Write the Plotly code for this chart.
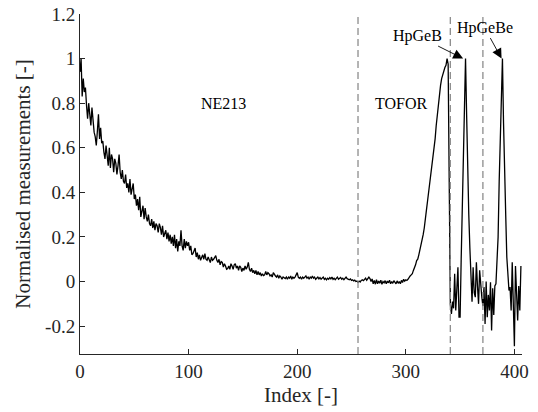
import plotly.graph_objects as go

# === Datos ===
# NE213: índices 0-255
ne213 = [
    0.94, 1.00, 0.83, 0.91, 0.85, 0.87, 0.79, 0.73, 0.80, 0.76,
    0.70, 0.78, 0.72, 0.67, 0.65, 0.61, 0.675, 0.75, 0.64, 0.69,
    0.62, 0.63, 0.58, 0.55, 0.61, 0.55, 0.52, 0.60, 0.51, 0.57,
    0.55, 0.49, 0.55, 0.53, 0.48, 0.52, 0.57, 0.49, 0.46, 0.50,
    0.45, 0.44, 0.48, 0.42, 0.44, 0.40, 0.46, 0.39, 0.42, 0.44,
    0.37, 0.39, 0.34, 0.37, 0.32, 0.38, 0.29, 0.32, 0.34, 0.28,
    0.33, 0.29, 0.27, 0.30, 0.26, 0.25, 0.28, 0.24, 0.27, 0.23,
    0.26, 0.25, 0.22, 0.26, 0.243, 0.21, 0.25, 0.20, 0.22, 0.23,
    0.19, 0.22, 0.18, 0.21, 0.17, 0.20, 0.16, 0.21, 0.15, 0.19,
    0.135, 0.18, 0.16, 0.23, 0.16, 0.14, 0.19, 0.15, 0.18, 0.16,
    0.176, 0.14, 0.16, 0.12, 0.125, 0.14, 0.15, 0.11, 0.13, 0.10,
    0.12, 0.095, 0.11, 0.12, 0.10, 0.125, 0.10, 0.095, 0.11, 0.10,
    0.085, 0.11, 0.095, 0.10, 0.11, 0.116, 0.095, 0.085, 0.10, 0.075,
    0.09, 0.086, 0.065, 0.08, 0.07, 0.055, 0.058, 0.07, 0.055, 0.08,
    0.07, 0.055, 0.075, 0.08, 0.06, 0.07, 0.05, 0.07, 0.064, 0.045,
    0.06, 0.05, 0.07, 0.055, 0.065, 0.086, 0.055, 0.045, 0.06, 0.04,
    0.05, 0.035, 0.05, 0.03, 0.045, 0.03, 0.04, 0.025, 0.035, 0.027,
    0.03, 0.045, 0.03, 0.04, 0.035, 0.025, 0.03, 0.02, 0.04, 0.03,
    0.025, 0.02, 0.03, 0.015, 0.025, 0.02, 0.01, 0.02, 0.015, 0.013,
    0.02, 0.01, 0.02, 0.015, 0.025, 0.01, 0.02, 0.015, 0.02, 0.03,
    0.04, 0.02, 0.015, 0.02, 0.01, 0.02, 0.015, 0.02, 0.025, 0.015,
    0.02, 0.01, 0.02, 0.015, 0.025, 0.015, 0.02, 0.01, 0.015, 0.02,
    0.012, 0.018, 0.01, 0.015, 0.02, 0.01, 0.015, 0.008, 0.015, 0.01,
    0.018, 0.012, 0.02, 0.01, 0.015, 0.008, 0.012, 0.02, 0.01, 0.015,
    0.018, 0.01, 0.015, 0.008, 0.012, 0.02, 0.013, 0.01, 0.008, 0.012,
    0.005, 0.008, 0.003, 0.006, 0.0, 0.002,
]
# TOFOR: índices 256-340
tofor = [
    -0.003, 0.002, -0.002, 0.005, 0.008, 0.004, 0.01, 0.015, 0.006, 0.012,
    0.02, 0.013, 0.0, 0.012, -0.01, 0.005, -0.012, 0.008, -0.01, 0.002,
    -0.008, 0.006, -0.012, 0.0, -0.006, 0.004, -0.01, 0.002, -0.006, 0.006,
    -0.01, 0.0, -0.008, 0.004, -0.006, -0.01, 0.003, -0.008, 0.0, -0.01,
    0.005, -0.004, 0.01, 0.002, 0.008, 0.005, 0.01, 0.02, 0.025, 0.03,
    0.035, 0.05, 0.06, 0.075, 0.094, 0.10, 0.12, 0.14, 0.17, 0.19,
    0.21, 0.24, 0.27, 0.32, 0.36, 0.40, 0.43, 0.47, 0.52, 0.56,
    0.59, 0.64, 0.70, 0.75, 0.79, 0.84, 0.88, 0.91, 0.93, 0.94,
    0.96, 0.97, 1.00, 0.975, 0.40,
]
# HpGeB: índices 341-370
hpgeb = [
    -0.10, -0.145, -0.09, -0.12, 0.035, -0.13, -0.05, 0.064, -0.16, -0.16,
    0.10, 0.35, 0.60, 0.85, 1.00, 0.75, 0.45, 0.30, 0.15, 0.0,
    -0.09, 0.064, -0.05, -0.07, 0.086, -0.02, -0.10, 0.05, -0.04, -0.07,
]
# HpGeBe: índices 371-406
hpgebe = [
    -0.11, -0.025, -0.19, 0.0, -0.16, -0.06, -0.13, -0.003, -0.22, -0.03,
    -0.15, -0.02, -0.01, 0.10, 0.20, 0.45, 0.62, 0.85, 1.00, 0.71,
    0.42, 0.30, 0.11, 0.04, -0.04, -0.025, -0.13, 0.086, -0.20, -0.29,
    0.07, -0.05, -0.175, -0.02, -0.13, 0.07,
]

medidas = ne213 + tofor + hpgeb + hpgebe
indices = list(range(len(medidas)))

limites = [256, 341, 371]          # líneas discontinuas
x_ticks = [0, 100, 200, 300, 400]
y_ticks = [-0.2, 0, 0.2, 0.4, 0.6, 0.8, 1, 1.2]
y_labels = ["-0.2", "0", "0.2", "0.4", "0.6", "0.8", "1", "1.2"]

FUENTE = "Liberation Serif"
GRIS_EJE = "#262626"

fig = go.Figure()

fig.add_trace(go.Scatter(
    x=indices, y=medidas, mode="lines",
    line=dict(color="black", width=1.3),
    showlegend=False, hoverinfo="skip",
))

for xl in limites:
    fig.add_shape(
        type="line", xref="x", yref="paper", x0=xl, x1=xl, y0=0, y1=1,
        line=dict(color="#8c8c8c", width=1.3, dash="7px,4px"),
    )

# --- Etiquetas de texto ---
fig.add_annotation(x=132, y=0.8, text="NE213", showarrow=False,
                   font=dict(family=FUENTE, size=16, color="black"))
fig.add_annotation(x=295.5, y=0.8, text="TOFOR", showarrow=False,
                   font=dict(family=FUENTE, size=16, color="black"))
fig.add_annotation(x=352.8, y=1.0, ax=-46, ay=-23, text="HpGeB",
                   showarrow=True, arrowhead=2, arrowsize=2.2, arrowwidth=0.9,
                   arrowcolor="black",
                   font=dict(family=FUENTE, size=16, color="black"))
fig.add_annotation(x=388.2, y=1.0, ax=-17, ay=-31, text="HpGeBe",
                   showarrow=True, arrowhead=2, arrowsize=2.2, arrowwidth=0.9,
                   arrowcolor="black",
                   font=dict(family=FUENTE, size=16, color="black"))

eje = dict(
    showline=True, linecolor=GRIS_EJE, linewidth=1,
    ticks="inside", ticklen=5, tickcolor=GRIS_EJE, tickwidth=1,
    showgrid=False, zeroline=False, automargin=False,
    tickfont=dict(family=FUENTE, size=19, color=GRIS_EJE),
)

fig.update_xaxes(
    range=[0, 407], tickvals=x_ticks,
    title=dict(text="Index [-]", font=dict(family=FUENTE, size=21, color=GRIS_EJE),
               standoff=6),
    **eje,
)
fig.update_yaxes(
    range=[-0.325, 1.2], tickvals=y_ticks, ticktext=y_labels,
    title=dict(text="Normalised measurements [-]",
               font=dict(family=FUENTE, size=21, color=GRIS_EJE), standoff=8),
    **eje,
)

fig.update_layout(
    width=538, height=412,
    margin=dict(l=80, r=16, t=14, b=58),
    paper_bgcolor="white", plot_bgcolor="white",
)

# quitar el margen por defecto del <body> para que la figura empiece en (0, 0)
fig.write_html("out.html", config={"displayModeBar": False},
               post_script="document.body.style.margin='0';")
